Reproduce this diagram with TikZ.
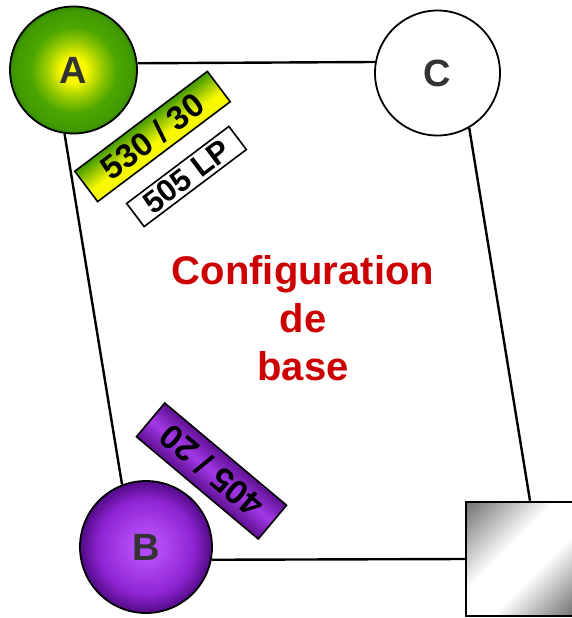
\documentclass[tikz,border=0pt]{standalone}
\usepackage{fontspec}
\setmainfont{Liberation Sans}
\usetikzlibrary{calc}
\definecolor{agreen}{HTML}{4CA600}
\definecolor{adgreen}{HTML}{338A00}
\definecolor{ayellow}{HTML}{F8F800}
\definecolor{bdark}{HTML}{520A86}
\definecolor{bmid}{HTML}{8E24D2}
\definecolor{blight}{HTML}{B24AF4}
\definecolor{pdark}{HTML}{5E1092}
\definecolor{plight}{HTML}{A238E6}
\definecolor{cred}{HTML}{CC0000}
\definecolor{lettergray}{HTML}{333333}
% radial shadings: 25bp = edge of the circle
\pgfdeclareradialshading{ashade}{\pgfpoint{0bp}{0bp}}{color(0bp)=(ayellow); color(5bp)=(ayellow); color(11bp)=(ayellow!45!agreen); color(17bp)=(agreen); color(23bp)=(agreen!60!adgreen); color(25bp)=(adgreen); color(50bp)=(adgreen)}
\pgfdeclareradialshading{bshade}{\pgfpoint{0bp}{0bp}}{color(0bp)=(blight); color(6bp)=(blight); color(18bp)=(bmid); color(25bp)=(bdark); color(50bp)=(bdark)}
\pgfdeclareverticalshading{tagA}{100bp}{color(0bp)=(ayellow); color(25bp)=(ayellow); color(42bp)=(ayellow); color(75bp)=(agreen!60!adgreen); color(100bp)=(agreen!60!adgreen)}
\pgfdeclareverticalshading{tagP}{100bp}{color(0bp)=(pdark); color(25bp)=(pdark); color(50bp)=(plight); color(75bp)=(pdark); color(100bp)=(pdark)}
\pgfdeclarehorizontalshading{sqshade}{100bp}{color(0bp)=(black!55); color(15bp)=(black!55); color(42bp)=(white); color(58bp)=(white); color(85bp)=(black!60); color(100bp)=(black!60)}
\tikzset{
  circ/.style={circle, draw=black, line width=1.8pt, minimum size=#1, inner sep=0pt,
     font=\fontsize{38}{40}\selectfont\bfseries, text=lettergray},
  edge/.style={draw=black, line width=2.4pt},
  tag/.style={rectangle, draw=black, line width=1.6pt, inner sep=0pt,
     font=\fontsize{33}{34}\selectfont\bfseries, text=black},
}
\begin{document}
\begin{tikzpicture}[x=1pt,y=-1pt]
\useasboundingbox (0,0) rectangle (572,618);
% nodes
\node[circ=127pt, shading=ashade] (A) at (73.5,70) {A};
\node[circ=125pt, fill=white] (C) at (437.5,73) {C};
\node[circ=132pt, shading=bshade] (B) at (146,547) {B};
\node[rectangle, draw=black, line width=2.4pt, minimum size=114pt, inner sep=0pt,
      shading=sqshade, shading angle=-45] (sq) at (523,559) {};
% connectors
\draw[edge] (A.6) -- (C.170);
\draw[edge] (A.262) -- (B.111);
\draw[edge] (C.300) -- ([xshift=7pt]sq.north);
\draw[edge] (B.349) -- (sq.west);
% tags
\begin{scope}[transform canvas={shift={(152.5,136.5)}, rotate=37}]
\node[tag, minimum width=166pt, minimum height=38pt,
      shading=tagA, shading angle=0] (t1) at (0,0) {530 / 30};
\end{scope}
\begin{scope}[transform canvas={shift={(186.5,176.5)}, rotate=37}]
\node[tag, minimum width=128pt, minimum height=29pt, fill=white,
      font=\fontsize{31}{32}\selectfont\bfseries] (t2) at (0,0) {505 LP};
\end{scope}
\begin{scope}[transform canvas={shift={(211.5,471)}, rotate=140}]
\node[tag, minimum width=159pt, minimum height=44pt, shading=tagP,
      font=\fontsize{34}{35}\selectfont\bfseries] (t3) at (0,0) {405 / 20};
\end{scope}
% title
\node[align=center, text=cred, font=\fontsize{40}{48}\selectfont\bfseries] (title) at (303,318)
  {Configuration\\de\\base};
\end{tikzpicture}
\end{document}
